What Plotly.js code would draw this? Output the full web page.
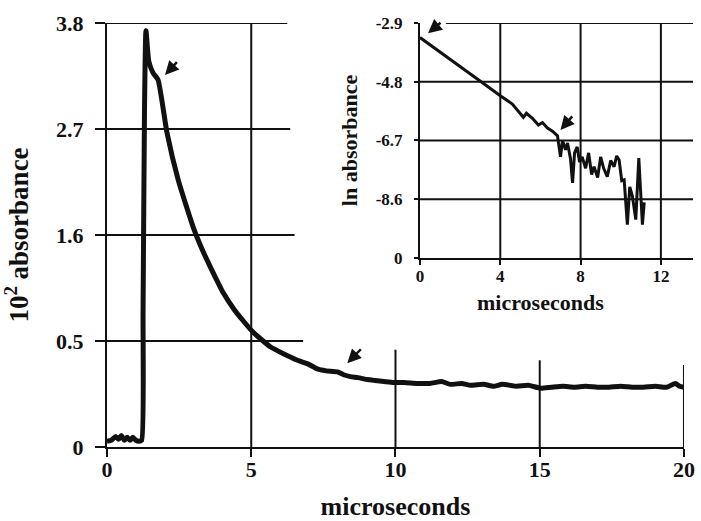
<!DOCTYPE html>
<html>
<head>
<meta charset="utf-8">
<script src="https://cdn.plot.ly/plotly-3.0.1.min.js"></script>
<style>html,body{margin:0;padding:0;background:#fff;}#chart{width:701px;height:521px;}</style>
</head>
<body>
<div id="chart"></div>
<script>
// ---- Main trace: 10^2 absorbance vs microseconds ----
var mainTime = [0, 0.15, 0.3, 0.4, 0.5, 0.6, 0.7, 0.8, 0.9, 1.0, 1.1, 1.2, 1.25, 1.3, 1.35, 1.45, 1.6, 1.77, 2.08, 2.47, 2.99, 3.3, 3.58, 4.03, 4.4, 4.72, 5.07, 5.66, 6.1, 6.6, 6.98, 7.29, 7.6, 7.99, 8.2, 8.44, 8.7, 9.03, 9.3, 9.6, 9.93, 10.3, 10.76, 11.2, 11.6, 11.9, 12.3, 12.6, 13.06, 13.4, 13.7, 14.2, 14.6, 15.03, 15.4, 15.8, 16.2, 16.6, 17.0, 17.4, 17.8, 18.2, 18.6, 19.0, 19.4, 19.7, 19.85, 20.0];
var mainAbs = [-0.54, -0.53, -0.49, -0.52, -0.48, -0.53, -0.50, -0.53, -0.50, -0.53, -0.54, -0.53, 0.8, 2.9, 3.72, 3.4, 3.28, 3.21, 2.66, 2.17, 1.68, 1.45, 1.27, 1.00, 0.83, 0.71, 0.59, 0.44, 0.37, 0.30, 0.26, 0.21, 0.19, 0.18, 0.15, 0.13, 0.12, 0.10, 0.09, 0.08, 0.07, 0.07, 0.06, 0.06, 0.08, 0.05, 0.06, 0.04, 0.05, 0.03, 0.05, 0.03, 0.04, 0.01, 0.02, 0.03, 0.02, 0.03, 0.02, 0.02, 0.03, 0.02, 0.02, 0.03, 0.02, 0.06, 0.03, 0.02];
var mainXTicks = [0, 5, 10, 15, 20];
var mainYTickVals = [-0.6, 0.5, 1.6, 2.7, 3.8];
var mainYTickText = ['0', '0.5', '1.6', '2.7', '3.8'];

// ---- Inset trace: ln absorbance vs microseconds ----
var insetTime = [0, 0.5, 1.0, 1.5, 2.0, 2.65, 3.2, 4.0, 4.6, 5.15, 5.3, 5.6, 5.9, 6.1, 6.35, 6.6, 6.85, 7.0, 7.1, 7.25, 7.35, 7.5, 7.6, 7.7, 7.83, 7.95, 8.08, 8.25, 8.4, 8.55, 8.67, 8.85, 9.0, 9.15, 9.33, 9.5, 9.67, 9.8, 9.92, 10.05, 10.17, 10.33, 10.45, 10.58, 10.75, 10.9, 11.0, 11.08, 11.17];
var insetLnAbs = [-3.37, -3.6, -3.84, -4.07, -4.3, -4.6, -4.87, -5.25, -5.52, -5.95, -5.82, -5.98, -6.2, -6.12, -6.3, -6.4, -6.55, -7.23, -6.7, -7.0, -6.78, -7.3, -8.07, -7.1, -6.91, -7.4, -7.23, -7.6, -7.1, -7.8, -7.55, -7.9, -7.23, -7.6, -7.87, -7.35, -7.55, -7.2, -7.33, -8.0, -7.97, -9.42, -8.2, -8.5, -9.26, -7.27, -8.4, -9.42, -8.7];
var insetXTicks = [0, 4, 8, 12];
var insetYTickVals = [-10.5, -8.6, -6.7, -4.8, -2.9];
var insetYTickText = ['0', '-8.6', '-6.7', '-4.8', '-2.9'];

// ---- Arrow markers (head x, head y, tail x, tail y) ----
var mainArrowHeadX = [2.01, 8.33];
var mainArrowHeadY = [3.26, 0.27];
var mainArrowTailX = [2.47, 8.85];
var mainArrowTailY = [3.41, 0.43];
var insetArrowHeadX = [0.4, 7.0];
var insetArrowHeadY = [-3.23, -6.36];
var insetArrowTailX = [1.1, 7.65];
var insetArrowTailY = [-2.85, -5.87];

var INK = '#111111';
var FONT = 'Liberation Serif, Times New Roman, serif';

// gridline extents (layout styling, mirrors the partial grid of the original figure)
var mainHGridEnd = {0.5: 6.8, 1.6: 6.5, 2.7: 6.35, 3.8: 6.25};
var mainVGridTop = {5: 3.8, 10: 0.41, 15: 0.30, 20: 0.25};

var shapes = [];
mainYTickVals.slice(1).forEach(function (v) {
  shapes.push({type: 'line', xref: 'x', yref: 'y', x0: 0, x1: mainHGridEnd[v], y0: v, y1: v,
    line: {color: INK, width: 2}});
});
mainXTicks.slice(1).forEach(function (v) {
  shapes.push({type: 'line', xref: 'x', yref: 'y', x0: v, x1: v, y0: -0.6, y1: mainVGridTop[v],
    line: {color: INK, width: 2}});
});
insetYTickVals.slice(1).forEach(function (v) {
  shapes.push({type: 'line', xref: 'x2', yref: 'y2', x0: (v === -2.9 ? 1.3 : 0), x1: 13.6, y0: v, y1: v,
    line: {color: INK, width: 2}});
});
insetXTicks.slice(1).forEach(function (v) {
  shapes.push({type: 'line', xref: 'x2', yref: 'y2', x0: v, x1: v, y0: -10.5, y1: -2.9,
    line: {color: INK, width: 2}});
});

var annotations = [];
for (var i = 0; i < mainArrowHeadX.length; i++) {
  annotations.push({xref: 'x', yref: 'y', axref: 'x', ayref: 'y', x: mainArrowHeadX[i], y: mainArrowHeadY[i],
    ax: mainArrowTailX[i], ay: mainArrowTailY[i], text: '', showarrow: true, arrowhead: 2, arrowsize: 1.1,
    arrowwidth: 2.5, arrowcolor: INK});
}
for (var j = 0; j < insetArrowHeadX.length; j++) {
  annotations.push({xref: 'x2', yref: 'y2', axref: 'x2', ayref: 'y2', x: insetArrowHeadX[j], y: insetArrowHeadY[j],
    ax: insetArrowTailX[j], ay: insetArrowTailY[j], text: '', showarrow: true, arrowhead: 2, arrowsize: 1.1,
    arrowwidth: 2.5, arrowcolor: INK});
}
annotations.push({xref: 'x2', yref: 'paper', x: 6.0, y: 0.34, text: 'microseconds', showarrow: false,
  xanchor: 'center', yanchor: 'middle', font: {family: FONT, size: 22, color: INK, weight: 'bold'}});

var traces = [
  {x: mainTime, y: mainAbs, xaxis: 'x', yaxis: 'y', mode: 'lines', type: 'scatter',
    line: {color: INK, width: 5, shape: 'spline', smoothing: 0.5}, hoverinfo: 'x+y'},
  {x: insetTime, y: insetLnAbs, xaxis: 'x2', yaxis: 'y2', mode: 'lines', type: 'scatter',
    line: {color: INK, width: 3}, hoverinfo: 'x+y'}
];

var layout = {
  width: 701, height: 521,
  margin: {l: 107, r: 8, t: 23, b: 74},
  paper_bgcolor: '#ffffff', plot_bgcolor: 'rgba(0,0,0,0)',
  showlegend: false,
  font: {family: FONT, color: INK, weight: 'bold'},
  xaxis: {
    domain: [0, 0.9846], range: [0, 20], tickvals: mainXTicks, ticktext: mainXTicks.map(String),
    showgrid: false, zeroline: false, showline: true, linecolor: INK, linewidth: 2,
    ticks: 'outside', ticklen: 8, tickwidth: 2, tickcolor: INK, ticklabelstandoff: -6,
    tickfont: {family: FONT, size: 22, color: INK, weight: 'bold'},
    title: {text: 'microseconds', standoff: 20, font: {family: FONT, size: 26, color: INK, weight: 'bold'}}
  },
  yaxis: {
    domain: [0, 1], range: [-0.6, 3.8], tickvals: mainYTickVals, ticktext: mainYTickText,
    showgrid: false, zeroline: false, showline: true, linecolor: INK, linewidth: 2,
    ticks: 'outside', ticklen: 10, tickwidth: 2, tickcolor: INK, ticklabelstandoff: 7,
    tickfont: {family: FONT, size: 22, color: INK, weight: 'bold'},
    title: {text: '10<sup>2</sup> absorbance', standoff: 20, font: {family: FONT, size: 27, color: INK, weight: 'bold'}}
  },
  xaxis2: {
    domain: [0.5341, 1], anchor: 'y2', range: [0, 13.6], tickvals: insetXTicks, ticktext: insetXTicks.map(String),
    showgrid: false, zeroline: false, showline: true, linecolor: INK, linewidth: 2,
    ticks: 'outside', ticklen: 5, tickwidth: 2, tickcolor: INK, ticklabelstandoff: -3,
    tickfont: {family: FONT, size: 17, color: INK, weight: 'bold'}
  },
  yaxis2: {
    domain: [0.4458, 1], anchor: 'x2', range: [-10.5, -2.9], tickvals: insetYTickVals, ticktext: insetYTickText,
    showgrid: false, zeroline: false, showline: true, linecolor: INK, linewidth: 2,
    ticks: 'outside', ticklen: 4, tickwidth: 2, tickcolor: INK, ticklabelstandoff: 8,
    tickfont: {family: FONT, size: 17, color: INK, weight: 'bold'},
    title: {text: 'ln absorbance', standoff: 12, font: {family: FONT, size: 22, color: INK, weight: 'bold'}}
  },
  shapes: shapes,
  annotations: annotations
};

Plotly.newPlot('chart', traces, layout, {displayModeBar: false, staticPlot: true});
</script>
</body>
</html>
